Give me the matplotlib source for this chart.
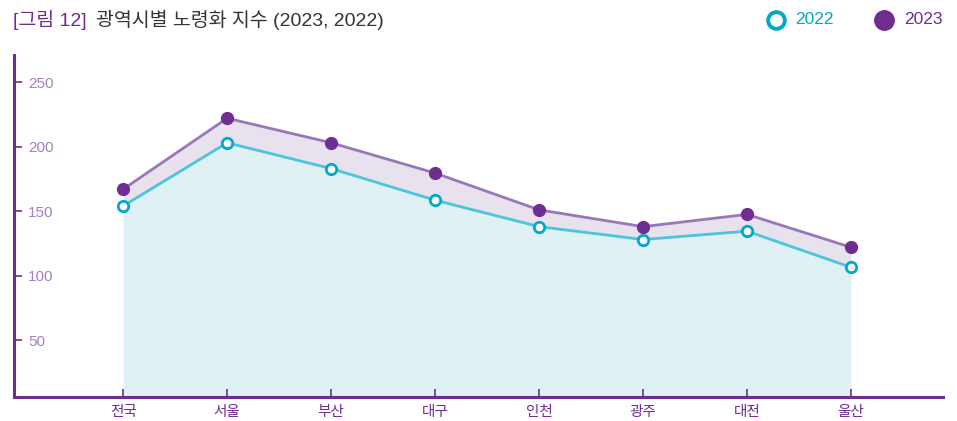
import matplotlib
matplotlib.use("Agg")
import matplotlib.pyplot as plt
from matplotlib.lines import Line2D

FAM = ['Liberation Sans', 'Noto Sans CJK KR', 'DejaVu Sans']
plt.rcParams['font.family'] = FAM

regions = ["전국", "서울", "부산", "대구", "인천", "광주", "대전", "울산"]
v2022 = [154, 203, 183, 158.5, 138, 128, 134.5, 106.5]
v2023 = [167, 222, 203, 179.5, 151, 138, 147.5, 122]
yticks = [50, 100, 150, 200, 250]

PURPLE = "#6f2c91"
PURPLE_LINE = "#9a77b7"
PURPLE_TICK = "#a47fc2"
CYAN = "#00a9c8"
CYAN_LINE = "#4cc4dc"
FILL_LOW = "#e0f1f6"
FILL_HIGH = "#e8e2ef"

fig = plt.figure(figsize=(9.57, 4.21), dpi=100)
ax = fig.add_axes([14/957, 24/421, (943-14)/957, (397-55)/421])

x = list(range(len(regions)))
ax.fill_between(x, 0, v2022, color=FILL_LOW, lw=0, zorder=1)
ax.fill_between(x, v2022, v2023, color=FILL_HIGH, lw=0, zorder=1)
ax.plot(x, v2023, color=PURPLE_LINE, lw=2, zorder=3)
ax.plot(x, v2022, color=CYAN_LINE, lw=2, zorder=3)
ax.plot(x, v2023, ls='none', marker='o', ms=8.5, mfc=PURPLE, mec=PURPLE, zorder=4)
ax.plot(x, v2022, ls='none', marker='o', ms=7.5, mfc='white', mec=CYAN, mew=2, zorder=4)

ax.set_xlim(-1.05, 7.885)
ax.set_ylim(6, 271)

for s in ['top', 'right']:
    ax.spines[s].set_visible(False)
for s in ['left', 'bottom']:
    ax.spines[s].set_color(PURPLE)
    ax.spines[s].set_linewidth(2.2)

ax.set_yticks(yticks)
ax.set_yticklabels([str(t) for t in yticks], ha='left', color=PURPLE_TICK, fontsize=11)
ax.tick_params(axis='y', direction='in', length=6, width=1.2, color=PURPLE, pad=-10)
ax.set_xticks(x)
ax.set_xticklabels(regions, color=PURPLE, fontsize=10.5)
ax.tick_params(axis='x', direction='in', length=6, width=1.2, color=PURPLE, pad=6)

fig.text(13/957, 1 - 20/421, "[그림 12]", color=PURPLE, fontsize=14, va='center', ha='left')
fig.text(96/957, 1 - 20/421, "광역시별 노령화 지수 (2023, 2022)", color="#333333", fontsize=14, va='center', ha='left')

# legend
fig.add_artist(Line2D([776/957], [1 - 20/421], ls='none', marker='o', ms=12, mfc='white', mec=CYAN, mew=2.8))
fig.text(795/957, 1 - 20/421, "2022", color=CYAN, fontsize=12.5, va='center', ha='left')
fig.add_artist(Line2D([884/957], [1 - 20/421], ls='none', marker='o', ms=14, mfc=PURPLE, mec=PURPLE))
fig.text(904/957, 1 - 20/421, "2023", color=PURPLE, fontsize=12.5, va='center', ha='left')

fig.savefig("out.png", dpi=100)
